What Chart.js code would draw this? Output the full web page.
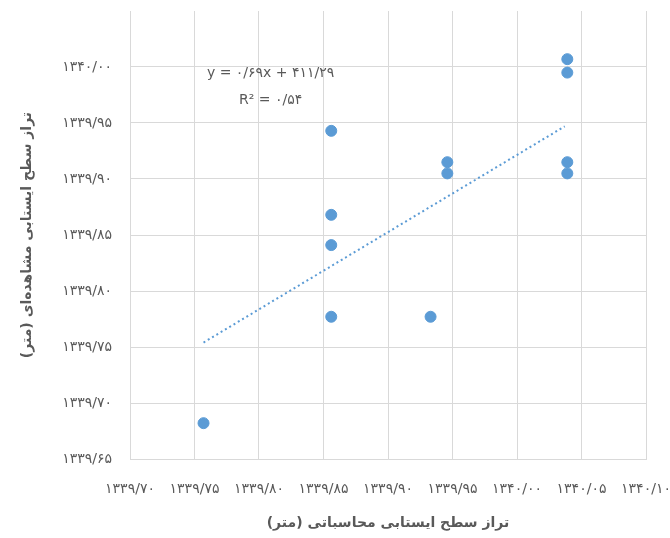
<!DOCTYPE html>
<html>
<head>
<meta charset="utf-8">
<script src="https://cdn.jsdelivr.net/npm/chart.js@4.4.1/dist/chart.umd.min.js"></script>
<style>
  html, body { margin: 0; padding: 0; background: #fff; overflow: hidden; }
  #wrap { width: 670px; height: 538px; }
</style>
</head>
<body>
<div id="wrap"><canvas id="chart"></canvas></div>
<script>
// observed vs calculated water table
const calcLevel = [1339.757, 1339.856, 1339.856, 1339.856, 1339.856, 1339.933, 1339.946, 1339.946, 1340.039, 1340.039, 1340.039, 1340.039];
const obsLevel = [1339.682, 1339.943, 1339.868, 1339.841, 1339.777, 1339.777, 1339.915, 1339.905, 1340.007, 1339.995, 1339.915, 1339.905];

// trendline ends
const trendX = [1339.757, 1340.037];
const trendY = [1339.754, 1339.947];

const equationText = ["y = ۰/۶۹x + ۴۱۱/۲۹", "R² = ۰/۵۴"];
const equationPos = { x: 1339.809, y: [1339.994, 1339.970] };

const xTitle = "تراز سطح ایستابی محاسباتی (متر)";
const yTitle = "تراز سطح ایستابی مشاهده‌ای (متر)";

const blue = "#5b9bd5";
const gridColor = "#d9d9d9";
const textColor = "#595959";

function toPersian(str) {
  return str.replace(/[0-9]/g, d => "۰۱۲۳۴۵۶۷۸۹"[d]).replace(".", "/");
}

const equationPlugin = {
  id: "equation",
  afterDatasetsDraw(chart) {
    const { ctx, scales } = chart;
    ctx.save();
    ctx.font = "14px 'DejaVu Sans'";
    ctx.fillStyle = textColor;
    ctx.textAlign = "center";
    ctx.textBaseline = "middle";
    equationText.forEach((t, i) => {
      ctx.fillText(t, scales.x.getPixelForValue(equationPos.x), scales.y.getPixelForValue(equationPos.y[i]));
    });
    ctx.restore();
  },
};

new Chart(document.getElementById("chart"), {
  type: "scatter",
  data: {
    datasets: [
      {
        label: "observed",
        data: calcLevel.map((x, i) => ({ x, y: obsLevel[i] })),
        backgroundColor: blue,
        borderColor: blue,
        pointRadius: 5.5,
        pointHoverRadius: 5.5,
        order: 1,
      },
      {
        label: "trend",
        type: "line",
        data: trendX.map((x, i) => ({ x, y: trendY[i] })),
        borderColor: blue,
        borderWidth: 2,
        borderDash: [2, 3],
        pointRadius: 0,
        fill: false,
        order: 2,
      },
    ],
  },
  options: {
    responsive: true,
    maintainAspectRatio: false,
    animation: false,
    layout: { padding: { top: 11, right: 24, left: 0, bottom: 0 } },
    plugins: {
      legend: { display: false },
      tooltip: { enabled: false },
    },
    scales: {
      x: {
        type: "linear",
        min: 1339.7,
        max: 1340.1,
        ticks: {
          stepSize: 0.05,
          padding: 22,
          color: textColor,
          font: { family: "'DejaVu Sans'", size: 14 },
          maxRotation: 0,
          autoSkip: false,
          callback: v => toPersian(v.toFixed(2)),
        },
        grid: { color: gridColor, drawTicks: false },
        border: { color: gridColor },
        title: {
          display: true,
          text: xTitle,
          color: textColor,
          font: { family: "'DejaVu Sans'", size: 14, weight: "bold" },
          padding: { top: 0, bottom: 6 },
        },
        afterFit(scale) {
          scale.height = 79;
          scale.paddingLeft = 0;
          scale.paddingRight = 0;
        },
      },
      y: {
        type: "linear",
        min: 1339.65,
        max: 1340.05,
        ticks: {
          stepSize: 0.05,
          padding: 18,
          color: textColor,
          font: { family: "'DejaVu Sans'", size: 14 },
          autoSkip: false,
          callback: v => (Math.abs(v - 1340.05) < 1e-6 ? "" : toPersian(v.toFixed(2))),
        },
        grid: {
          color: c => (c.tick && Math.abs(c.tick.value - 1340.05) < 1e-6 ? "rgba(0,0,0,0)" : gridColor),
          drawTicks: false,
        },
        border: { color: gridColor },
        title: {
          display: true,
          text: yTitle,
          color: textColor,
          font: { family: "'DejaVu Sans'", size: 14, weight: "bold" },
          padding: { top: 19, bottom: 0 },
        },
        afterFit(scale) {
          scale.width = 130;
          scale.paddingTop = 0;
          scale.paddingBottom = 0;
        },
      },
    },
  },
  plugins: [equationPlugin],
});
</script>
</body>
</html>
